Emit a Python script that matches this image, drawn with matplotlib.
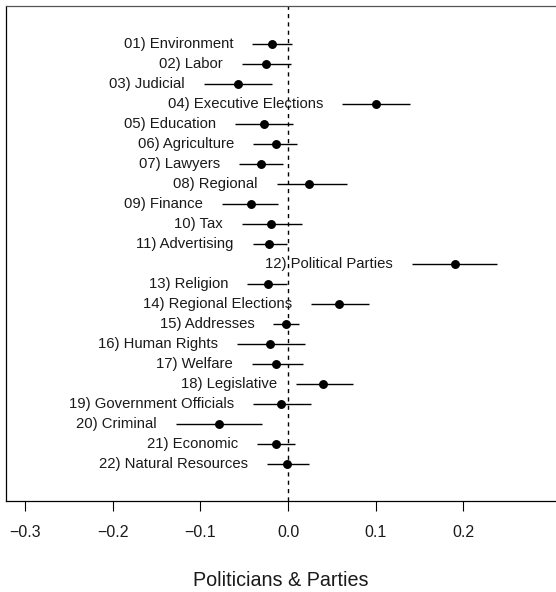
import matplotlib
matplotlib.use("Agg")
import matplotlib.pyplot as plt

# Coefficient estimates with confidence intervals by policy area
categories = [
    "01) Environment", "02) Labor", "03) Judicial", "04) Executive Elections",
    "05) Education", "06) Agriculture", "07) Lawyers", "08) Regional",
    "09) Finance", "10) Tax", "11) Advertising", "12) Political Parties",
    "13) Religion", "14) Regional Elections", "15) Addresses", "16) Human Rights",
    "17) Welfare", "18) Legislative", "19) Government Officials", "20) Criminal",
    "21) Economic", "22) Natural Resources",
]
estimate = [
    -0.0186, -0.0251, -0.0575, 0.1005, -0.0274, -0.0141, -0.0304, 0.0244,
    -0.0426, -0.0194, -0.0213, 0.1906, -0.0232, 0.0582, -0.0027, -0.0202,
    -0.0133, 0.0403, -0.0080, -0.0784, -0.0137, -0.0008,
]
lower = [
    -0.0407, -0.0529, -0.0959, 0.0620, -0.0601, -0.0396, -0.0563, -0.0129,
    -0.0750, -0.0529, -0.0403, 0.1412, -0.0468, 0.0263, -0.0168, -0.0582,
    -0.0415, 0.0088, -0.0396, -0.1282, -0.0354, -0.0243,
]
upper = [
    0.0046, 0.0034, -0.0186, 0.1389, 0.0053, 0.0099, -0.0061, 0.0674,
    -0.0114, 0.0160, -0.0011, 0.2386, -0.0008, 0.0925, 0.0122, 0.0190,
    0.0175, 0.0738, 0.0263, -0.0293, 0.0080, 0.0244,
]
xticks = [-0.3, -0.2, -0.1, 0.0, 0.1, 0.2]
xtick_labels = ["\u22120.3", "\u22120.2", "\u22120.1", "0.0", "0.1", "0.2"]

plt.rcParams["font.family"] = ["Liberation Sans", "DejaVu Sans"]

W, H = 556, 592
fig = plt.figure(figsize=(W / 100, H / 100), dpi=100)
ax = fig.add_axes([6 / W, (H - 501) / H, (W - 6) / W, (501 - 5.5) / H])

n = len(categories)
ypos = [n - i for i in range(n)]

ax.axvline(0, color="black", lw=1.0, ls=(0, (3, 3)), zorder=1)
for y, est, lo, hi, lab in zip(ypos, estimate, lower, upper, categories):
    ax.plot([lo, hi], [y, y], color="black", lw=1.0, solid_capstyle="butt", zorder=2)
    ax.plot(est, y, "o", color="black", ms=5.4, zorder=3)
    ax.annotate(lab, xy=(lo, y), xytext=(-19, 0), textcoords="offset pixels",
                ha="right", va="center", fontsize=10.7, color="#1a1a1a")

ax.set_xlim((6 - 288) / 876, (W - 288) / 876)
ax.set_ylim(-0.87, 23.94)
ax.set_yticks([])
ax.set_xticks(xticks)
ax.set_xticklabels(xtick_labels, fontsize=11.5, color="#1a1a1a")
ax.tick_params(axis="x", length=7.2, width=0.8, pad=10, color="black")
for side in ("left", "bottom", "top"):
    ax.spines[side].set_linewidth(0.9)
    ax.spines[side].set_color("black")
ax.spines["top"].set_color("#555555")
ax.spines["right"].set_visible(False)
ax.set_xlabel("Politicians & Parties", fontsize=14.2, labelpad=22.5, color="#1a1a1a")

fig.savefig("out.png", dpi=100)
